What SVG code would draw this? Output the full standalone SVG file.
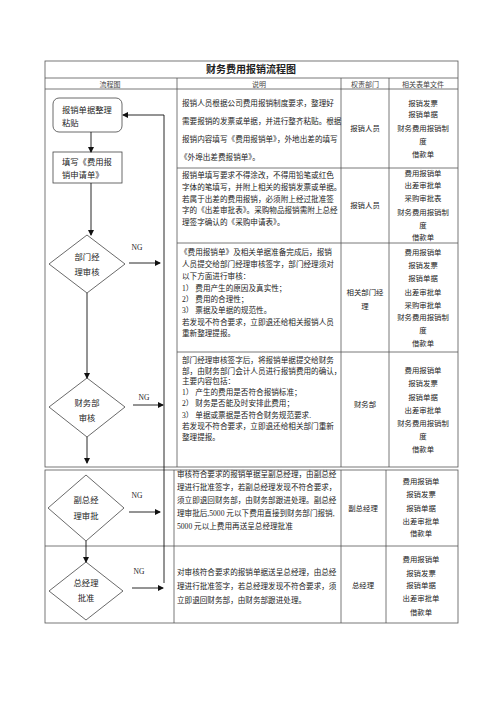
<svg xmlns="http://www.w3.org/2000/svg" width="500" height="707" viewBox="0 0 500 707">
<defs>
<marker id="ah" markerWidth="6" markerHeight="6" refX="5" refY="3" orient="auto" markerUnits="userSpaceOnUse">
<path d="M0,0 L6,3 L0,6 Z" fill="#111"/>
</marker>
<style>
.t{font-family:"Liberation Serif","Noto Sans CJK SC",serif;fill:#222}
.d{font-size:7.6px}
.h{font-size:7px;text-anchor:middle;fill:#444}
.c{font-size:7.4px;text-anchor:middle}
.f{font-size:8.3px}
.fm{font-size:8.3px;text-anchor:middle}
.g{stroke:#555;stroke-width:0.8;fill:none}
.n{stroke:#444;stroke-width:0.8;fill:#fff}
.l{stroke:#111;stroke-width:0.9;fill:none}
</style>
</defs>
<rect width="500" height="707" fill="#fff"/>
<g id="table">
<rect class="g" x="45" y="61" width="413" height="406"/>
<line class="g" x1="45" y1="78" x2="458" y2="78"/>
<line class="g" x1="45" y1="89" x2="458" y2="89"/>
<line class="g" x1="177" y1="78" x2="177" y2="467"/>
<line class="g" x1="341" y1="78" x2="341" y2="467"/>
<line class="g" x1="389" y1="78" x2="389" y2="467"/>
<line class="g" x1="177" y1="168" x2="458" y2="168"/>
<line class="g" x1="177" y1="243" x2="458" y2="243"/>
<line class="g" x1="177" y1="352" x2="458" y2="352"/>
<rect class="g" x="45" y="470" width="413" height="153"/>
<line class="g" x1="45" y1="546" x2="458" y2="546"/>
<line class="g" x1="174" y1="470" x2="174" y2="623"/>
<line class="g" x1="341" y1="470" x2="341" y2="623"/>
<line class="g" x1="386" y1="470" x2="386" y2="623"/>
<text class="t" x="251" y="73" font-size="10" font-weight="bold" text-anchor="middle">财务费用报销流程图</text>
<text class="t h" x="110" y="86.5">流程图</text>
<text class="t h" x="259" y="86.5">说明</text>
<text class="t h" x="365" y="86.5">权责部门</text>
<text class="t h" x="423" y="86.5">相关表单文件</text>
</g>
<g id="desc">
<text class="t d" x="182" y="106">报销人员根据公司费用报销制度要求，整理好</text>
<text class="t d" x="182" y="124">需要报销的发票或单据，并进行整齐粘贴。根据</text>
<text class="t d" x="182" y="142">报销内容填写《费用报销单》，外地出差的填写</text>
<text class="t d" x="180" y="160">《外埠出差费报销单》。</text>
<text class="t d" x="182" y="178">报销单填写要求不得涂改，不得用铅笔或红色</text>
<text class="t d" x="182" y="190">字体的笔填写，并附上相关的报销发票或单据。</text>
<text class="t d" x="182" y="202">若属于出差的费用报销，必须附上经过批准签</text>
<text class="t d" x="182" y="213">字的《出差审批表》。采购物品报销需附上总经</text>
<text class="t d" x="182" y="225">理签字确认的《采购申请表》。</text>
<text class="t d" x="180" y="255">《费用报销单》及相关单据准备完成后，报销</text>
<text class="t d" x="182" y="267">人员提交给部门经理审核签字，部门经理须对</text>
<text class="t d" x="182" y="279">以下方面进行审核：</text>
<text class="t d" x="182" y="291">1）  费用产生的原因及真实性；</text>
<text class="t d" x="182" y="302">2）  费用的合理性；</text>
<text class="t d" x="182" y="313">3）  票据及单据的规范性。</text>
<text class="t d" x="182" y="325">若发现不符合要求，立即退还给相关报销人员</text>
<text class="t d" x="182" y="336">重新整理提报。</text>
<text class="t d" x="182" y="363">部门经理审核签字后，将报销单据提交给财务</text>
<text class="t d" x="182" y="374">部，由财务部门会计人员进行报销费用的确认，</text>
<text class="t d" x="182" y="384">主要内容包括：</text>
<text class="t d" x="182" y="395">1）  产生的费用是否符合报销标准；</text>
<text class="t d" x="182" y="406">2）  财务是否能及时安排此费用；</text>
<text class="t d" x="182" y="418">3）  单据或票据是否符合财务规范要求.</text>
<text class="t d" x="182" y="429">若发现不符合要求，立即退还给相关部门重新</text>
<text class="t d" x="182" y="440">整理提报。</text>
<text class="t d" x="177" y="477">审核符合要求的报销单据呈副总经理，由副总经</text>
<text class="t d" x="177" y="490">理进行批准签字，若副总经理发现不符合要求，</text>
<text class="t d" x="177" y="503">须立即退回财务部，由财务部跟进处理。副总经</text>
<text class="t d" x="177" y="516">理审批后,5000 元以下费用直接到财务部门报销,</text>
<text class="t d" x="177" y="529">5000 元以上费用再送呈总经理批准</text>
<text class="t d" x="177" y="575">对审核符合要求的报销单据送呈总经理，由总经</text>
<text class="t d" x="177" y="589">理进行批准签字，若总经理发现不符合要求，须</text>
<text class="t d" x="177" y="603">立即退回财务部，由财务部跟进处理。</text>
</g>
<g id="dept">
<text class="t c" x="365" y="131">报销人员</text>
<text class="t c" x="365" y="208">报销人员</text>
<text class="t c" x="365" y="295">相关部门经</text>
<text class="t c" x="365" y="309">理</text>
<text class="t c" x="365" y="407">财务部</text>
<text class="t c" x="363" y="511">副总经理</text>
<text class="t c" x="363" y="588">总经理</text>
</g>
<g id="forms">
<text class="t c" x="423" y="106">报销发票</text>
<text class="t c" x="423" y="117">报销单据</text>
<text class="t c" x="423" y="131">财务费用报销制</text>
<text class="t c" x="423" y="144">度</text>
<text class="t c" x="423" y="157">借款单</text>
<text class="t c" x="423" y="176">费用报销单</text>
<text class="t c" x="423" y="188">出差审批单</text>
<text class="t c" x="423" y="201">采购审批表</text>
<text class="t c" x="423" y="215">财务费用报销制</text>
<text class="t c" x="423" y="228">度</text>
<text class="t c" x="423" y="240">借款单</text>
<text class="t c" x="423" y="255">费用报销单</text>
<text class="t c" x="423" y="268">报销发票</text>
<text class="t c" x="423" y="281">报销单据</text>
<text class="t c" x="423" y="295">出差审批单</text>
<text class="t c" x="423" y="308">采购审批单</text>
<text class="t c" x="423" y="320">财务费用报销制</text>
<text class="t c" x="423" y="333">度</text>
<text class="t c" x="423" y="346">借款单</text>
<text class="t c" x="423" y="373">费用报销单</text>
<text class="t c" x="423" y="386">报销发票</text>
<text class="t c" x="423" y="400">报销单据</text>
<text class="t c" x="423" y="413">出差审批单</text>
<text class="t c" x="423" y="426">财务费用报销制</text>
<text class="t c" x="423" y="439">度</text>
<text class="t c" x="423" y="452">借款单</text>
<text class="t c" x="421" y="484">费用报销单</text>
<text class="t c" x="421" y="497">报销发票</text>
<text class="t c" x="421" y="511">报销单据</text>
<text class="t c" x="421" y="524">出差审批单</text>
<text class="t c" x="421" y="536">借款单</text>
<text class="t c" x="421" y="562">费用报销单</text>
<text class="t c" x="421" y="576">报销发票</text>
<text class="t c" x="421" y="588">报销单据</text>
<text class="t c" x="421" y="601">出差审批单</text>
<text class="t c" x="421" y="615">借款单</text>
</g>
<g id="n1">
<rect class="n" x="53" y="98" width="69" height="34" rx="6"/>
<text class="t f" x="62" y="113">报销单据整理</text>
<text class="t f" x="62" y="126">粘贴</text>
</g>
<g id="n2">
<rect class="n" x="53" y="152" width="69" height="31"/>
<text class="t f" x="62" y="165">填写《费用报</text>
<text class="t f" x="62" y="178">销申请单》</text>
</g>
<g id="n3">
<polygon class="n" points="87,235 125,264 87,293 49,264"/>
<text class="t fm" x="87" y="260">部门经</text>
<text class="t fm" x="87" y="275">理审核</text>
</g>
<g id="n4">
<polygon class="n" points="87,378 125,407 87,437 49,407"/>
<text class="t fm" x="87" y="406">财务部</text>
<text class="t fm" x="87" y="421">审核</text>
</g>
<g id="n5">
<polygon class="n" points="86,475 124,508 86,541 48,508"/>
<text class="t fm" x="86" y="503">副总经</text>
<text class="t fm" x="86" y="519">理审批</text>
</g>
<g id="n6">
<polygon class="n" points="86,562 123,591 86,620 49,591"/>
<text class="t fm" x="86" y="586">总经理</text>
<text class="t fm" x="86" y="601">批准</text>
</g>
<g id="connectors">
<line class="l" x1="91" y1="132" x2="91" y2="152" marker-end="url(#ah)"/>
<line class="l" x1="91" y1="183" x2="91" y2="235" marker-end="url(#ah)"/>
<line class="l" x1="87" y1="293" x2="87" y2="378" marker-end="url(#ah)"/>
<line class="l" x1="87" y1="437" x2="87" y2="463" marker-end="url(#ah)"/>
<line class="l" x1="86" y1="541" x2="86" y2="562" marker-end="url(#ah)"/>
<polyline class="l" points="164,583 164,115 123,115" marker-end="url(#ah)"/>
<line class="l" x1="129" y1="263" x2="160" y2="263" marker-end="url(#ah)"/>
<line class="l" x1="133" y1="405" x2="163" y2="405" marker-end="url(#ah)"/>
<line class="l" x1="129" y1="512" x2="160" y2="512" marker-end="url(#ah)"/>
<line class="l" x1="132" y1="588" x2="163" y2="588" marker-end="url(#ah)"/>
<text class="t" x="137" y="250" font-size="7.5" text-anchor="middle">NG</text>
<text class="t" x="144" y="400" font-size="7.5" text-anchor="middle">NG</text>
<text class="t" x="137" y="498" font-size="7.5" text-anchor="middle">NG</text>
<text class="t" x="139" y="574" font-size="7.5" text-anchor="middle">NG</text>
</g>
</svg>
